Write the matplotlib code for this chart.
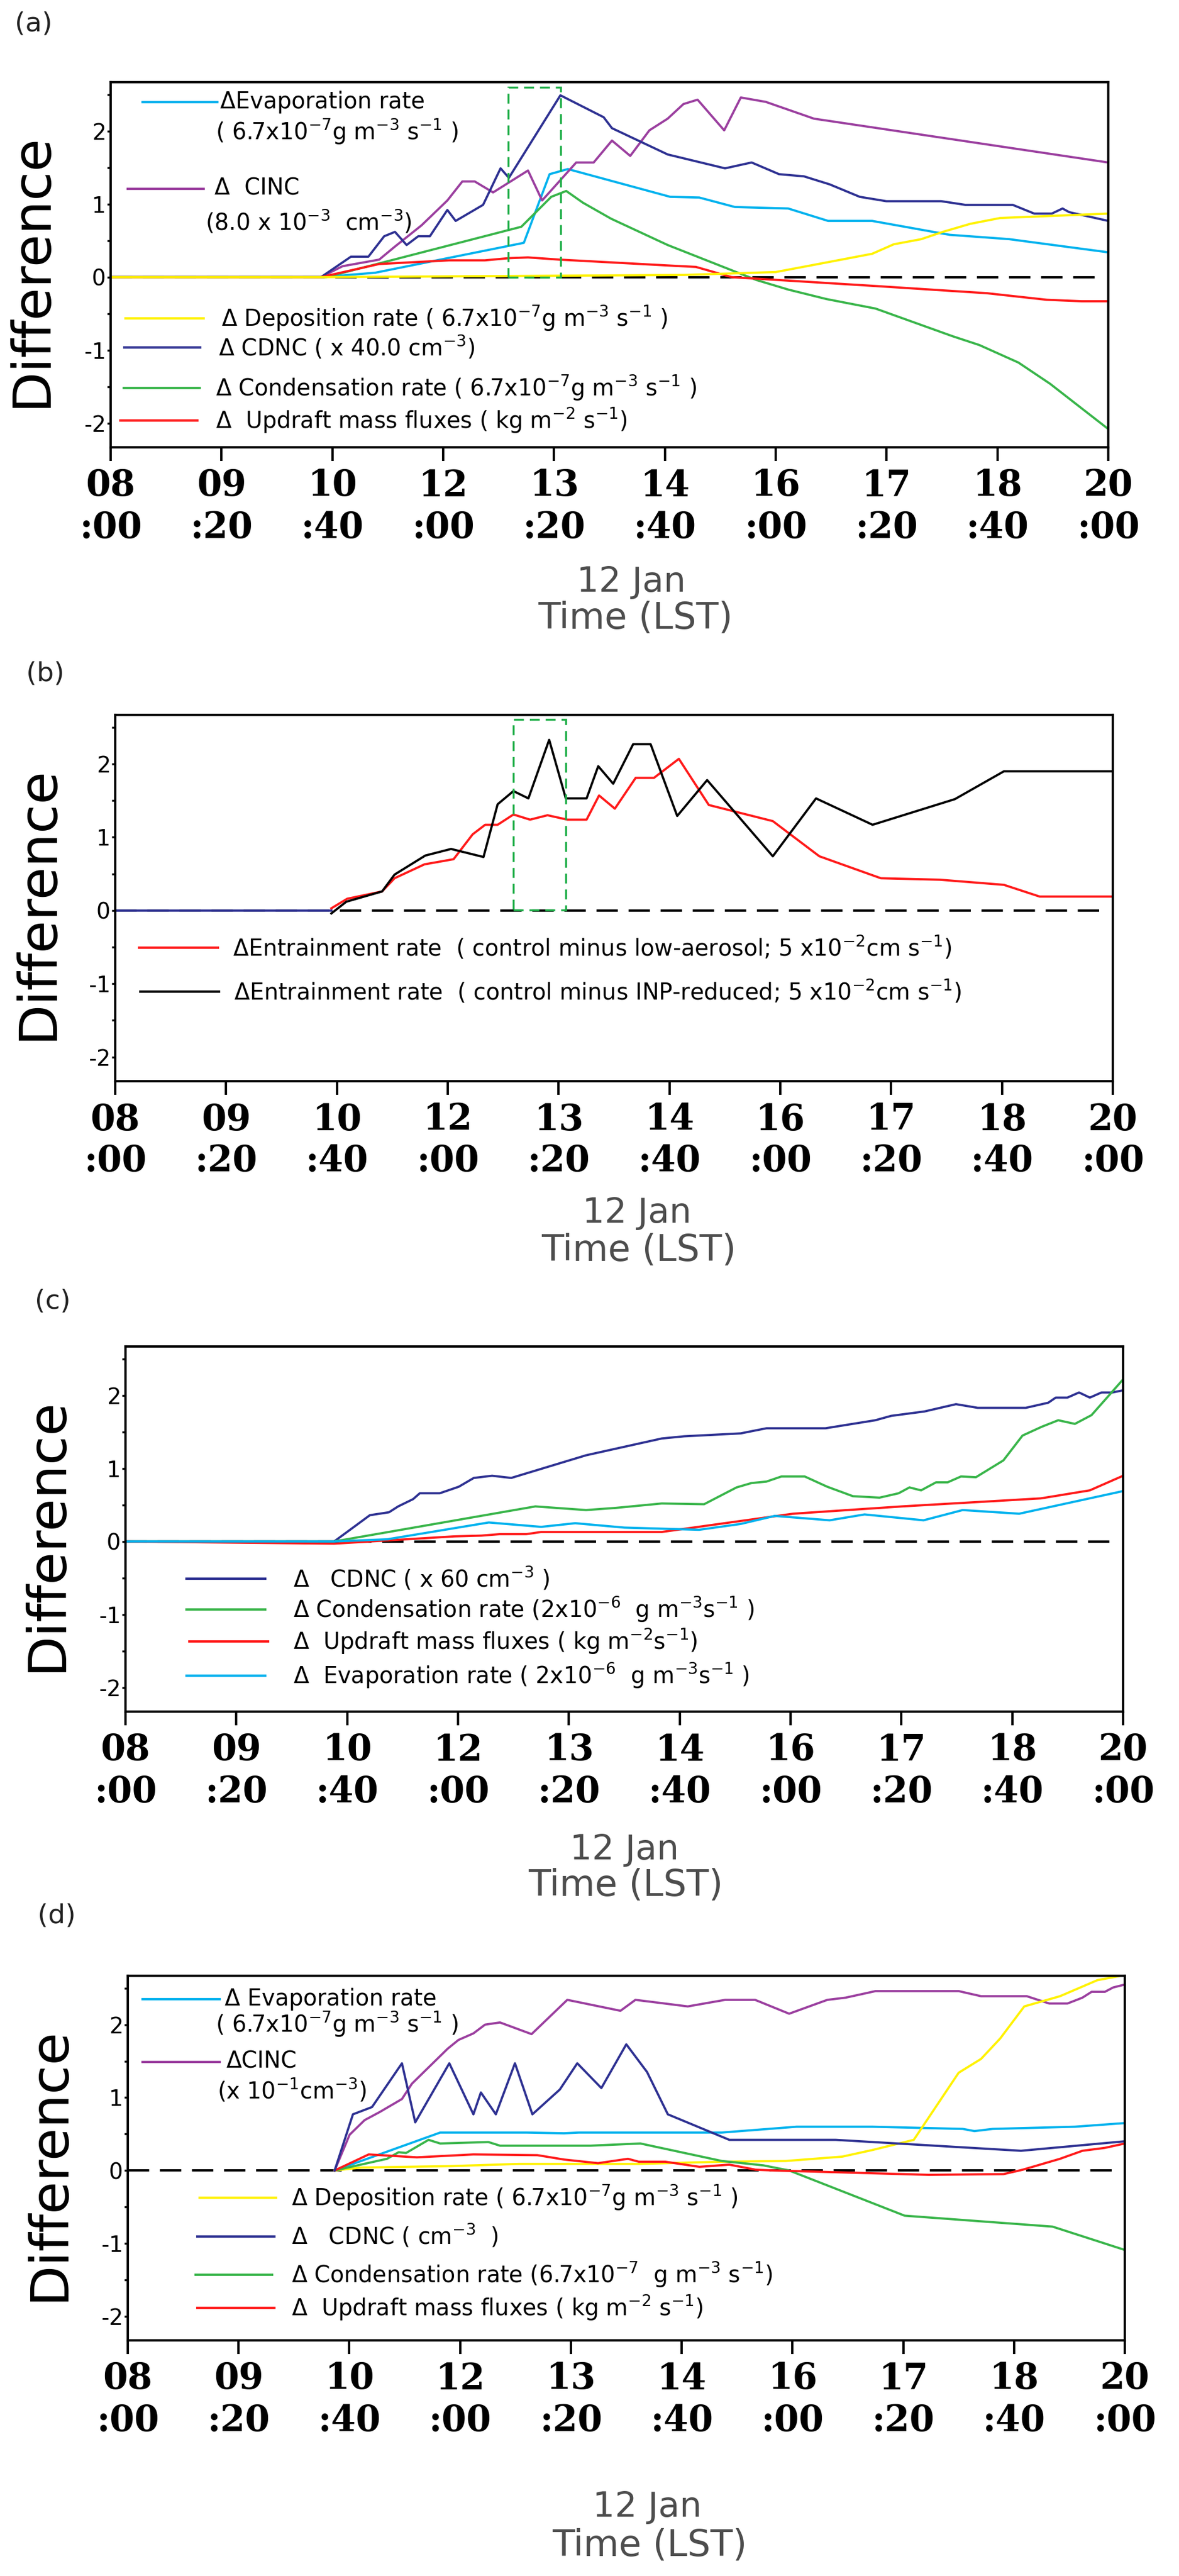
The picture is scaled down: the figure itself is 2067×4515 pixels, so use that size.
import matplotlib
matplotlib.use("Agg")
import matplotlib.pyplot as plt
from matplotlib.patches import Rectangle
from matplotlib.ticker import MultipleLocator, FixedLocator

plt.rcParams['font.family'] = ['DejaVu Sans']
plt.rcParams['mathtext.fontset'] = 'dejavusans'
plt.rcParams['axes.unicode_minus'] = False

# colours
C_EVAP = "#00b2ee"
C_CINC = "#9b3f9f"
C_CDNC = "#2e3192"
C_COND = "#39b54a"
C_UPDR = "#ff1a1a"
C_DEPO = "#fff200"
C_BOX = "#1fae48"

xtick_labels = ["08\n:00", "09\n:20", "10\n:40", "12\n:00", "13\n:20",
                "14\n:40", "16\n:00", "17\n:20", "18\n:40", "20\n:00"]
ytick_values = [-2, -1, 0, 1, 2]
ytick_labels = ["-2", "-1", "0", "1", "2"]

# ---------------- panel (a) ----------------
a_evap_t = [8.0, 10.53, 11.18, 12.97, 13.28, 13.50, 14.73, 15.08, 15.51, 16.15, 16.63, 17.16, 18.09, 18.81, 20.0]
a_evap_v = [0, 0, 0.06, 0.47, 1.41, 1.48, 1.10, 1.09, 0.96, 0.94, 0.77, 0.77, 0.58, 0.52, 0.34]
a_cinc_t = [8.0, 10.53, 10.79, 11.23, 11.41, 11.74, 12.05, 12.23, 12.38, 12.60, 13.02, 13.19, 13.60, 13.81,
            14.03, 14.25, 14.48, 14.70, 14.89, 15.06, 15.38, 15.58, 15.88, 16.46, 20.0]
a_cinc_v = [0, 0, 0.15, 0.24, 0.41, 0.71, 1.05, 1.31, 1.31, 1.16, 1.46, 1.05, 1.57, 1.57,
            1.87, 1.66, 2.01, 2.17, 2.37, 2.43, 2.01, 2.46, 2.40, 2.17, 1.57]
a_cdnc_t = [8.0, 10.53, 10.89, 11.10, 11.29, 11.42, 11.56, 11.70, 11.84, 12.05, 12.15, 12.48, 12.69, 12.79,
            13.41, 13.93, 14.03, 14.70, 15.39, 15.71, 16.04, 16.34, 16.65, 17.01, 17.33, 17.99, 18.28,
            18.85, 19.11, 19.32, 19.45, 19.53, 20.0]
a_cdnc_v = [0, 0, 0.28, 0.28, 0.56, 0.62, 0.44, 0.56, 0.56, 0.92, 0.77, 0.99, 1.49, 1.36,
            2.49, 2.19, 2.04, 1.68, 1.49, 1.57, 1.41, 1.38, 1.27, 1.10, 1.04, 1.04, 0.99,
            0.99, 0.87, 0.87, 0.94, 0.89, 0.77]
a_cond_t = [8.0, 10.59, 12.94, 13.30, 13.48, 13.68, 14.02, 14.70, 15.77, 16.15, 16.61, 17.20, 18.13,
            18.45, 18.92, 19.30, 20.0]
a_cond_v = [0, 0, 0.69, 1.10, 1.18, 1.02, 0.80, 0.44, -0.04, -0.17, -0.30, -0.43, -0.81,
            -0.93, -1.17, -1.46, -2.08]
a_updr_t = [8.0, 10.53, 11.23, 12.07, 12.50, 12.79, 13.02, 13.40, 14.70, 15.04, 15.47, 16.04, 17.18,
            18.54, 19.26, 19.68, 20.0]
a_updr_v = [0, 0, 0.18, 0.23, 0.23, 0.26, 0.27, 0.24, 0.16, 0.14, 0.0, -0.04, -0.12,
            -0.22, -0.31, -0.33, -0.33]
a_depo_t = [8.0, 10.53, 14.90, 16.0, 16.42, 17.16, 17.42, 17.75, 18.01, 18.34, 18.70, 20.0]
a_depo_v = [0, 0, 0.03, 0.07, 0.16, 0.32, 0.45, 0.52, 0.62, 0.73, 0.81, 0.87]
a_box = [12.785, 13.41, 0.0, 2.6]

# ---------------- panel (b) ----------------
b_base_t = [8.0, 10.6]
b_base_v = [0, 0]
b_low_t = [10.60, 10.79, 11.21, 11.36, 11.72, 12.07, 12.30, 12.45, 12.60, 12.79, 12.99, 13.20, 13.44,
           13.67, 13.82, 14.01, 14.26, 14.48, 14.78, 15.14, 15.91, 16.47, 17.21, 17.92, 18.69, 19.12, 20.0]
b_low_v = [0.03, 0.16, 0.26, 0.44, 0.63, 0.70, 1.04, 1.17, 1.17, 1.31, 1.24, 1.30, 1.24,
           1.24, 1.57, 1.39, 1.81, 1.81, 2.07, 1.44, 1.22, 0.74, 0.44, 0.42, 0.35, 0.19, 0.19]
b_inp_t = [10.60, 10.78, 11.21, 11.36, 11.73, 12.04, 12.43, 12.60, 12.79, 12.97, 13.22, 13.42, 13.67,
           13.81, 13.99, 14.23, 14.44, 14.76, 15.12, 15.91, 16.43, 17.11, 18.10, 18.69, 20.0]
b_inp_v = [-0.04, 0.12, 0.26, 0.49, 0.75, 0.84, 0.73, 1.45, 1.63, 1.53, 2.33, 1.53, 1.53,
           1.97, 1.73, 2.27, 2.27, 1.29, 1.78, 0.74, 1.53, 1.17, 1.52, 1.90, 1.90]
b_box = [12.79, 13.42, 0.01, 2.61]

# ---------------- panel (c) ----------------
c_cdnc_t = [8.0, 10.51, 10.94, 11.17, 11.28, 11.46, 11.54, 11.78, 12.01, 12.19, 12.41, 12.64, 13.54,
            14.45, 14.72, 15.40, 15.71, 16.42, 17.02, 17.21, 17.61, 17.99, 18.25, 18.83, 19.10, 19.19,
            19.33, 19.47, 19.60, 19.74, 19.87, 20.0]
c_cdnc_v = [0, 0, 0.36, 0.40, 0.48, 0.58, 0.66, 0.66, 0.75, 0.87, 0.90, 0.87, 1.18,
            1.41, 1.44, 1.48, 1.55, 1.55, 1.66, 1.72, 1.78, 1.88, 1.83, 1.83, 1.90, 1.97,
            1.97, 2.04, 1.97, 2.04, 2.04, 2.07]
c_cond_t = [8.0, 10.51, 12.93, 13.54, 13.90, 14.45, 14.96, 15.35, 15.53, 15.71, 15.89, 16.17, 16.44,
            16.75, 17.07, 17.30, 17.43, 17.57, 17.75, 17.89, 18.05, 18.23, 18.56, 18.79, 19.02, 19.22,
            19.42, 19.62, 19.83, 20.0]
c_cond_v = [0, 0, 0.48, 0.43, 0.46, 0.52, 0.51, 0.74, 0.80, 0.82, 0.89, 0.89, 0.75,
            0.62, 0.60, 0.66, 0.74, 0.70, 0.81, 0.81, 0.89, 0.88, 1.11, 1.45, 1.57, 1.66,
            1.61, 1.73, 2.00, 2.22]
c_updr_t = [8.0, 10.51, 11.96, 12.28, 12.50, 12.82, 13.0, 14.45, 15.08, 16.03, 17.34, 19.01, 19.60, 20.0]
c_updr_v = [0, -0.03, 0.07, 0.08, 0.10, 0.10, 0.13, 0.13, 0.23, 0.38, 0.48, 0.59, 0.70, 0.90]
c_evap_t = [8.0, 10.51, 11.15, 12.37, 13.0, 13.41, 14.0, 14.90, 15.40, 15.81, 16.47, 16.89, 17.60,
            18.07, 18.75, 20.0]
c_evap_v = [0, 0, 0.03, 0.26, 0.20, 0.25, 0.19, 0.16, 0.24, 0.35, 0.29, 0.37, 0.29,
            0.43, 0.38, 0.69]

# ---------------- panel (d) ----------------
d_evap_t = [10.49, 11.76, 12.80, 13.25, 13.43, 15.15, 16.05, 16.96, 18.05, 18.19, 18.41, 19.40, 20.0]
d_evap_v = [0, 0.52, 0.52, 0.51, 0.52, 0.52, 0.60, 0.60, 0.57, 0.54, 0.57, 0.60, 0.65]
d_cinc_t = [10.49, 10.67, 10.85, 11.03, 11.30, 11.42, 11.85, 11.98, 12.16, 12.30, 12.48, 12.86, 13.29,
            13.93, 14.11, 14.74, 15.19, 15.55, 15.96, 16.42, 16.64, 17.00, 18.0, 18.27, 18.82, 19.09,
            19.31, 19.49, 19.60, 19.76, 19.86, 20.0]
d_cinc_v = [0, 0.49, 0.69, 0.80, 0.98, 1.19, 1.67, 1.79, 1.88, 2.00, 2.03, 1.87, 2.34,
            2.19, 2.34, 2.25, 2.34, 2.34, 2.15, 2.34, 2.37, 2.46, 2.46, 2.39, 2.39, 2.29,
            2.29, 2.37, 2.45, 2.45, 2.51, 2.55]
d_cdnc_t = [10.49, 10.71, 10.94, 11.30, 11.46, 11.87, 12.16, 12.25, 12.43, 12.66, 12.87, 13.20, 13.41,
            13.70, 14.0, 14.25, 14.50, 15.24, 16.52, 18.75, 20.0]
d_cdnc_v = [0, 0.77, 0.87, 1.47, 0.66, 1.47, 0.77, 1.07, 0.77, 1.47, 0.77, 1.11, 1.47,
            1.13, 1.73, 1.35, 0.77, 0.42, 0.42, 0.27, 0.40]
d_cond_t = [10.49, 11.12, 11.26, 11.35, 11.62, 11.76, 12.34, 12.48, 13.57, 14.17, 15.15, 15.65, 15.96,
            17.35, 19.13, 20.0]
d_cond_v = [0, 0.16, 0.25, 0.24, 0.42, 0.37, 0.39, 0.34, 0.34, 0.37, 0.13, 0.07, 0.0,
            -0.62, -0.77, -1.09]
d_updr_t = [10.49, 10.90, 11.48, 12.16, 12.93, 13.25, 13.66, 14.02, 14.15, 14.47, 14.88, 15.24, 15.56,
            15.78, 17.64, 18.54, 18.77, 19.22, 19.49, 19.76, 20.0]
d_updr_v = [0, 0.22, 0.18, 0.22, 0.21, 0.15, 0.10, 0.16, 0.12, 0.12, 0.05, 0.08, 0.01,
            0.0, -0.06, -0.05, 0.01, 0.16, 0.27, 0.31, 0.37]
d_depo_t = [10.49, 10.81, 11.89, 12.71, 14.15, 15.15, 15.92, 16.60, 16.96, 17.46, 18.0, 18.27, 18.50,
            18.79, 19.22, 19.67, 20.0]
d_depo_v = [0, 0.04, 0.06, 0.09, 0.09, 0.12, 0.13, 0.19, 0.28, 0.42, 1.34, 1.53, 1.81,
            2.25, 2.39, 2.61, 2.68]

W, H = 2067, 4515
fig = plt.figure(figsize=(W / 100, H / 100), dpi=100)


def px_axes(left, top, right, bottom):
    "axes from pixel box of the reference image"
    return fig.add_axes([left / W, 1 - bottom / H, (right - left) / W, (bottom - top) / H])


def style_axes(ax):
    ax.set_xlim(8, 20)
    ax.set_ylim(-2.33, 2.67)
    ax.set_xticks([8 + k * 4 / 3 for k in range(10)])
    ax.set_xticklabels(xtick_labels, fontfamily='DejaVu Serif', fontweight='bold',
                       fontsize=45, linespacing=1.25)
    ax.yaxis.set_major_locator(FixedLocator(ytick_values))
    ax.set_yticklabels(ytick_labels, fontsize=28)
    ax.yaxis.set_minor_locator(MultipleLocator(0.5))
    ax.tick_params(axis='x', direction='out', length=17, width=3, pad=10)
    ax.tick_params(axis='y', which='both', direction='out', length=4, width=2.5, pad=2)
    for sp in ax.spines.values():
        sp.set_linewidth(3)
    ax.axhline(0, xmin=0.0, xmax=0.99, color='black', lw=3, dashes=(9, 4.5), zorder=1)


def legend_line(ax, x0, x1, y, color):
    ax.plot([x0, x1], [y, y], color=color, lw=3, transform=ax.transAxes, clip_on=False)


def legend_text(ax, x, y, s):
    ax.text(x, y, s, transform=ax.transAxes, fontsize=28.5, ha='left', va='center')


def decorate(label, lab_xy, ylab_xy, jan_xy, lst_xy):
    fig.text(lab_xy[0] / W, 1 - lab_xy[1] / H, label, fontsize=34, color='#222222',
             ha='center', va='center')
    fig.text(ylab_xy[0] / W, 1 - ylab_xy[1] / H, "Difference", fontsize=67, rotation=90,
             ha='center', va='center')
    fig.text(jan_xy[0] / W, 1 - jan_xy[1] / H, "12 Jan", fontsize=44, color='#4d4d4d',
             ha='center', va='center')
    fig.text(lst_xy[0] / W, 1 - lst_xy[1] / H, "Time (LST)", fontsize=46, color='#4d4d4d',
             ha='center', va='center')


LW = 2.8
unit7 = r"( 6.7x10$^{-7}$g m$^{-3}$ s$^{-1}$ )"

# (a)
ax = px_axes(194, 144, 1943, 784)
style_axes(ax)
ax.plot(a_evap_t, a_evap_v, color=C_EVAP, lw=LW)
ax.plot(a_cinc_t, a_cinc_v, color=C_CINC, lw=LW)
ax.plot(a_cdnc_t, a_cdnc_v, color=C_CDNC, lw=LW)
ax.plot(a_cond_t, a_cond_v, color=C_COND, lw=LW)
ax.plot(a_updr_t, a_updr_v, color=C_UPDR, lw=LW)
ax.plot(a_depo_t, a_depo_v, color=C_DEPO, lw=LW)
ax.add_patch(Rectangle((a_box[0], a_box[2]), a_box[1] - a_box[0], a_box[3] - a_box[2],
                       fill=False, edgecolor=C_BOX, lw=2.5, ls=(0, (5, 3)), zorder=5))
legend_line(ax, 0.032, 0.107, 0.945, C_EVAP)
legend_text(ax, 0.110, 0.945, "ΔEvaporation rate")
legend_text(ax, 0.105, 0.864, unit7)
legend_line(ax, 0.017, 0.093, 0.708, C_CINC)
legend_text(ax, 0.104, 0.708, "Δ  CINC")
legend_text(ax, 0.095, 0.617, r"(8.0 x 10$^{-3}$  cm$^{-3}$)")
legend_line(ax, 0.015, 0.093, 0.353, C_DEPO)
legend_text(ax, 0.111, 0.353, "Δ Deposition rate " + unit7)
legend_line(ax, 0.014, 0.090, 0.273, C_CDNC)
legend_text(ax, 0.108, 0.273, r"Δ CDNC ( x 40.0 cm$^{-3}$)")
legend_line(ax, 0.013, 0.089, 0.1625, C_COND)
legend_text(ax, 0.105, 0.1625, "Δ Condensation rate " + unit7)
legend_line(ax, 0.010, 0.087, 0.073, C_UPDR)
legend_text(ax, 0.105, 0.073, r"Δ  Updraft mass fluxes ( kg m$^{-2}$ s$^{-1}$)")
decorate("(a)", (59, 42), (55, 473), (1107, 1021), (1114, 1084))

# (b)
ax = px_axes(202, 1253, 1951, 1895)
style_axes(ax)
ax.plot(b_base_t, b_base_v, color=C_CDNC, lw=LW)
ax.plot(b_low_t, b_low_v, color=C_UPDR, lw=LW)
ax.plot(b_inp_t, b_inp_v, color='black', lw=LW)
ax.add_patch(Rectangle((b_box[0], b_box[2]), b_box[1] - b_box[0], b_box[3] - b_box[2],
                       fill=False, edgecolor=C_BOX, lw=2.5, ls=(0, (5, 3)), zorder=5))
legend_line(ax, 0.024, 0.103, 0.3645, C_UPDR)
legend_text(ax, 0.118, 0.3645, r"ΔEntrainment rate  ( control minus low-aerosol; 5 x10$^{-2}$cm s$^{-1}$)")
legend_line(ax, 0.025, 0.104, 0.2445, 'black')
legend_text(ax, 0.119, 0.2445, r"ΔEntrainment rate  ( control minus INP-reduced; 5 x10$^{-2}$cm s$^{-1}$)")
decorate("(b)", (79, 1181), (66, 1582), (1117, 2127), (1120, 2192))

# (c)
ax = px_axes(220, 2360, 1969, 3000)
style_axes(ax)
ax.plot(c_cdnc_t, c_cdnc_v, color=C_CDNC, lw=LW)
ax.plot(c_cond_t, c_cond_v, color=C_COND, lw=LW)
ax.plot(c_updr_t, c_updr_v, color=C_UPDR, lw=LW)
ax.plot(c_evap_t, c_evap_v, color=C_EVAP, lw=LW)
legend_line(ax, 0.061, 0.140, 0.364, C_CDNC)
legend_text(ax, 0.168, 0.364, r"Δ   CDNC ( x 60 cm$^{-3}$ )")
legend_line(ax, 0.061, 0.140, 0.280, C_COND)
legend_text(ax, 0.168, 0.280, r"Δ Condensation rate (2x10$^{-6}$  g m$^{-3}$s$^{-1}$ )")
legend_line(ax, 0.064, 0.143, 0.192, C_UPDR)
legend_text(ax, 0.168, 0.192, r"Δ  Updraft mass fluxes ( kg m$^{-2}$s$^{-1}$)")
legend_line(ax, 0.061, 0.140, 0.098, C_EVAP)
legend_text(ax, 0.168, 0.098, r"Δ  Evaporation rate ( 2x10$^{-6}$  g m$^{-3}$s$^{-1}$ )")
decorate("(c)", (92, 2281), (82, 2689), (1095, 3243), (1097, 3305))

# (d)
ax = px_axes(224, 3463, 1972, 4102)
style_axes(ax)
ax.plot(d_evap_t, d_evap_v, color=C_EVAP, lw=LW)
ax.plot(d_cinc_t, d_cinc_v, color=C_CINC, lw=LW)
ax.plot(d_depo_t, d_depo_v, color=C_DEPO, lw=LW)
ax.plot(d_cond_t, d_cond_v, color=C_COND, lw=LW)
ax.plot(d_updr_t, d_updr_v, color=C_UPDR, lw=LW)
ax.plot(d_cdnc_t, d_cdnc_v, color=C_CDNC, lw=LW)
legend_line(ax, 0.015, 0.092, 0.936, C_EVAP)
legend_text(ax, 0.097, 0.936, "Δ Evaporation rate")
legend_text(ax, 0.088, 0.867, r"( 6.7x10$^{-7}$g m$^{-3}$ s$^{-1}$ )")
legend_line(ax, 0.015, 0.092, 0.764, C_CINC)
legend_text(ax, 0.099, 0.764, "ΔCINC")
legend_text(ax, 0.090, 0.685, r"(x 10$^{-1}$cm$^{-3}$)")
legend_line(ax, 0.072, 0.149, 0.391, C_DEPO)
legend_text(ax, 0.164, 0.391, "Δ Deposition rate " + unit7)
legend_line(ax, 0.070, 0.147, 0.285, C_CDNC)
legend_text(ax, 0.164, 0.285, r"Δ   CDNC ( cm$^{-3}$  )")
legend_line(ax, 0.068, 0.145, 0.180, C_COND)
legend_text(ax, 0.164, 0.180, r"Δ Condensation rate (6.7x10$^{-7}$  g m$^{-3}$ s$^{-1}$)")
legend_line(ax, 0.070, 0.147, 0.089, C_UPDR)
legend_text(ax, 0.164, 0.089, r"Δ  Updraft mass fluxes ( kg m$^{-2}$ s$^{-1}$)")
decorate("(d)", (99, 3358), (86, 3792), (1135, 4394), (1139, 4462))

fig.savefig("out.png", dpi=100)
